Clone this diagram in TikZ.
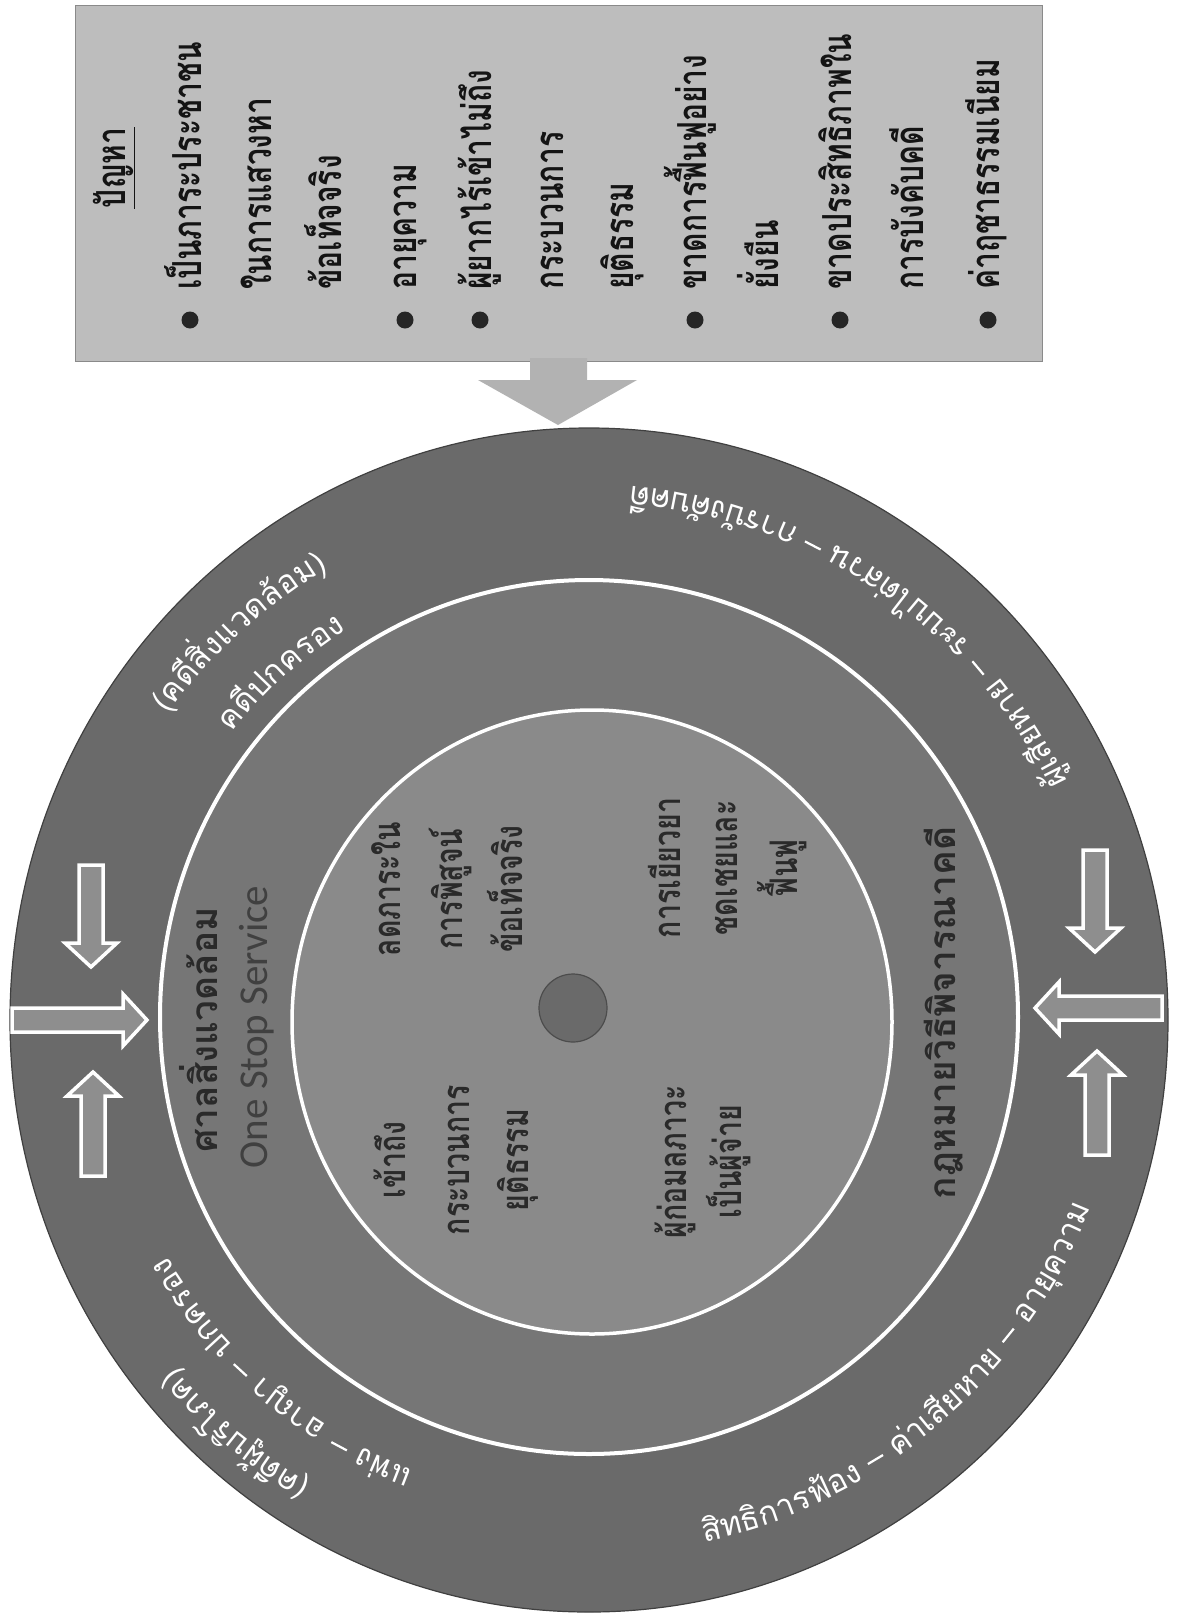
\documentclass[tikz,border=0pt]{standalone}
\usepackage{fontspec}
\newfontfamily\thai[Script=Thai]{Loma}
\newfontfamily\thaicond[Script=Thai,FakeStretch=0.75]{Loma}
\newfontfamily\latinc{Carlito}
\definecolor{boxgray}{HTML}{BDBDBD}
\definecolor{boxedge}{HTML}{8A8A8A}
\definecolor{arrowgray}{HTML}{B2B2B2}
\definecolor{ringdark}{HTML}{6A6A6A}
\definecolor{ringmid}{HTML}{767676}
\definecolor{ringin}{HTML}{8A8A8A}
\definecolor{darktxt}{HTML}{2A2A2A}
\definecolor{barfill}{HTML}{8E8E8E}
\newcommand\arcsep{\hbox to 0.35em{}\rule[0.3em]{0.55em}{0.07em}\hbox to 0.35em{}}
\newcommand\lp{(}
\newcommand\rp{)}
% place clusters one after another along a circle round (589,-1020)
\newcommand\arcrun[6]{% #1 radius, #2 start angle, #3 direction, #4 font, #5 clusters, #6 node options
  \xdef\curang{#2}%
  \foreach \cl in {#5}{%
    \node[arcglyph,#6,rotate=\curang+(#3)*90] (g) at ({589+(#1)*cos(\curang)},{-1020+(#1)*sin(\curang)}) {#4\cl};
    \path (g.base east); \pgfgetlastxy{\gx}{\gy}%
    \pgfmathsetmacro\na{atan2(\gy+1020,\gx-589)}%
    \xdef\curang{\na}%
  }%
}
\newcommand\arctext[5]{% radius, centre angle, direction, font, clusters
  \setbox0=\hbox{\arcrun{#1}{#2}{#3}{#4}{#5}{}}%
  \pgfmathsetmacro\arcst{#2-(\curang-(#2))/2}%
  \global\let\arcstg\arcst
  \arcrun{#1}{\arcstg}{#3}{#4}{#5}{}%
}
\newcommand\blockarrow[5]{% x, y (tail), angle, length, name
  \begin{scope}[shift={(#1,#2)},rotate=#3]
    \draw[barrow] (0,-12) -- (#4-24,-12) -- (#4-24,-26) -- (#4,0) -- (#4-24,26) -- (#4-24,12) -- (0,12) -- cycle;
    \coordinate (#5) at (#4,0);
  \end{scope}
}
\begin{document}
\begin{tikzpicture}[x=1pt,y=1pt,
  arcglyph/.style={inner sep=0pt,outer sep=0pt,anchor=base west,text=white},
  boxtxt/.style={rotate=90,anchor=base west,inner sep=0pt,text=black!92,
    font={\thaicond\bfseries\fontsize{40}{48}\selectfont}},
  innertxt/.style={rotate=90,anchor=base,inner sep=0pt,text=darktxt,
    font={\thaicond\bfseries\fontsize{38}{46}\selectfont}},
  midtxt/.style={rotate=90,anchor=base,inner sep=0pt,text=darktxt,
    font={\thai\bfseries\fontsize{37}{44}\selectfont}},
  barrow/.style={draw=white,line width=3.5pt,fill=barfill,line join=miter}]
\useasboundingbox (0,0) rectangle (1178,-1622);
\fill[white] (0,0) rectangle (1178,-1622);

% problem box and its arrow
\draw[fill=boxgray,draw=boxedge,line width=1pt] (75,-5) rectangle (1042,-361);
\fill[arrowgray] (530,-358) -- (530,-380) -- (478,-380) -- (558,-425) -- (637,-380) -- (587,-380) -- (587,-358) -- cycle;

\node[boxtxt,anchor=base] (head) at (125,-168) {\underline{ปัญหา}};
\foreach \x/\t/\b [count=\i] in {190/เป็นภาระประชาชน/1,260/ในการแสวงหา/0,330/ข้อเท็จจริง/0,405/อายุความ/1,480/ผู้ยากไร้เข้าไม่ถึง/1,552/กระบวนการ/0,622/ยุติธรรม/0,695/ขาดการฟื้นฟูอย่าง/1,767/ยั่งยืน/0,840/ขาดประสิทธิภาพใน/1,912/การบังคับคดี/0,988/ค่าฤชาธรรมเนียม/1}{
  \node[boxtxt] (line\i) at (\x+11,-290) {\t};
  \ifnum\b=1 \fill[black!85] (\x,-320) circle (8.5); \fi
}

% circles
\draw[fill=ringdark,draw=black!75,line width=1.2pt] (589,-1020) ellipse [x radius=579,y radius=592];
\draw[fill=ringmid,draw=white,line width=4pt] (589,-1017) ellipse [x radius=429,y radius=437];
\draw[fill=ringin,draw=white,line width=3.5pt] (592,-1022) ellipse [x radius=300,y radius=312];
\draw[fill=ringmid!90!black,draw=black!70,line width=1.2pt] (573,-1008) circle (34);

% side arrows
\blockarrow{12}{-1020}{0}{135}{la}
\blockarrow{91}{-865}{-90}{102}{lb}
\blockarrow{93}{-1176}{90}{104}{lc}
\blockarrow{1162}{-1008}{180}{127}{ra}
\blockarrow{1095}{-850}{-90}{102}{rb}
\blockarrow{1097}{-1155}{90}{104}{rc}

% inner disc texts
\node[innertxt] (i1) at (400,-889) {ลดภาระใน};
\node[innertxt] (i2) at (462,-889) {การพิสูจน์};
\node[innertxt] (i3) at (522,-889) {ข้อเท็จจริง};
\node[innertxt] (i4) at (405,-1160) {เข้าถึง};
\node[innertxt] (i5) at (469,-1160) {กระบวนการ};
\node[innertxt] (i6) at (528,-1160) {ยุติธรรม};
\node[innertxt] (i7) at (680,-868) {การเยียวยา};
\node[innertxt] (i8) at (737,-868) {ชดเชยและ};
\node[innertxt] (i9) at (797,-868) {ฟื้นฟู};
\node[innertxt] (i10) at (686,-1162) {ผู้ก่อมลภาวะ};
\node[innertxt] (i11) at (741,-1162) {เป็นผู้จ่าย};

% middle ring texts
\node[midtxt] (m1) at (217,-1030) {ศาลสิ่งแวดล้อม};
\node[midtxt,font={\latinc\fontsize{41}{48}\selectfont},text=black!75] (m2) at (267,-1027) {One Stop Service};
\node[midtxt] (m3) at (955,-1013) {กฎหมายวิธีพิจารณาคดี};

% outer ring texts along arcs
\arctext{521}{132}{-1}{\thai\fontsize{32}{38}\selectfont}{\lp,ค,ดี,สิ่,ง,แ,ว,ด,ล้,อ,ม,\rp}
\arctext{459}{131.5}{-1}{\thai\fontsize{32}{38}\selectfont}{ค,ดี,ป,ก,ค,ร,อ,ง}
\arctext{535}{56}{1}{\thai\fontsize{32}{38}\selectfont}{ผู้,เ,สี,ย,ห,า,ย,\arcsep,ร,ะ,บ,บ,ไ,ต่,ส,ว,น,\arcsep,ก,า,ร,บั,ง,คั,บ,ค,ดี}
\arctext{535}{-49}{1}{\thai\fontsize{32}{38}\selectfont}{สิ,ท,ธิ,ก,า,ร,ฟ้,อ,ง,\arcsep,ค่,า,เ,สี,ย,ห,า,ย,\arcsep,อ,า,ยุ,ค,ว,า,ม}
\arctext{541}{-130.5}{-1}{\thai\fontsize{32}{38}\selectfont}{\lp,ค,ดี,ผู้,บ,ริ,โ,ภ,ค,\rp}
\arctext{483}{-131}{-1}{\thai\fontsize{32}{38}\selectfont}{แ,พ่,ง,\arcsep,อ,า,ญ,า,\arcsep,ป,ก,ค,ร,อ,ง}
\end{tikzpicture}
\end{document}
